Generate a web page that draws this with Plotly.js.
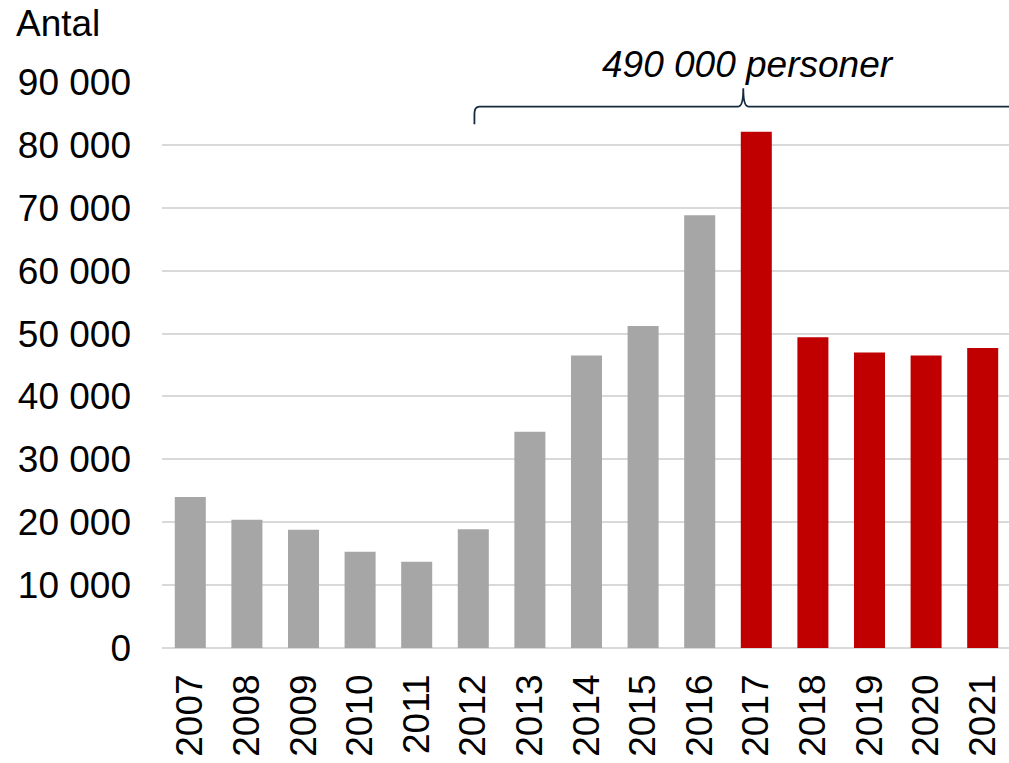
<!DOCTYPE html>
<html>
<head>
<meta charset="utf-8">
<script src="https://cdn.plot.ly/plotly-3.0.1.min.js"></script>
<style>
  html, body { margin: 0; padding: 0; background: #ffffff; overflow: hidden; }
  #chart { width: 1011px; height: 763px; }
</style>
</head>
<body>
<div id="chart"></div>
<script>
// ---- data ----
const years = ['2007','2008','2009','2010','2011','2012','2013','2014','2015','2016','2017','2018','2019','2020','2021'];
const antal = [24000, 20400, 18800, 15300, 13700, 18900, 34400, 46500, 51200, 68800, 82100, 49400, 47000, 46500, 47700];
const highlightFrom = '2017';
const braceLabel = '490 000 personer';
const yTitle = 'Antal';

// ---- styles ----
const grey = '#a6a6a6';
const red = '#c00000';
const font = 'Liberation Sans, Arial, sans-serif';
const barColors = years.map(y => (y >= highlightFrom ? red : grey));

// brace geometry (x in category index units, y in data units)
const bx0 = 5.02, bxp = 9.77, bx1 = 14.8;
const yLine = 86100, yHook = 83300, yPeak = 89000, r = 0.09, ry = 1100;
const bracePath =
  `M ${bx0},${yHook} L ${bx0},${yLine - ry} Q ${bx0},${yLine} ${bx0 + r},${yLine} ` +
  `L ${bxp - r},${yLine} Q ${bxp},${yLine} ${bxp},${yPeak} ` +
  `Q ${bxp},${yLine} ${bxp + r},${yLine} L ${bx1 - r},${yLine} ` +
  `Q ${bx1},${yLine} ${bx1},${yLine - ry} L ${bx1},${yHook}`;

const trace = {
  type: 'bar',
  x: years,
  y: antal,
  marker: { color: barColors, line: { width: 0 } },
  hoverinfo: 'x+y'
};

const layout = {
  width: 1011,
  height: 763,
  margin: { l: 162, r: 0, t: 82, b: 115 },
  paper_bgcolor: '#ffffff',
  plot_bgcolor: '#ffffff',
  separators: ', ',
  font: { family: font, size: 37, color: '#000000' },
  bargap: 0.452,
  showlegend: false,
  xaxis: {
    type: 'category',
    range: [-0.5, years.length - 0.5],
    autorange: false,
    tickangle: -90,
    showgrid: false,
    showline: false,
    zeroline: false,
    ticks: '',
    ticklabelstandoff: 18,
    tickfont: { family: font, size: 37, color: '#000000' }
  },
  yaxis: {
    range: [0, 90000],
    autorange: false,
    dtick: 10000,
    tick0: 0,
    tickformat: ',d',
    showgrid: true,
    gridcolor: '#d9d9d9',
    gridwidth: 2,
    zeroline: true,
    zerolinecolor: '#d9d9d9',
    zerolinewidth: 2,
    showline: false,
    ticks: '',
    ticklabelstandoff: 30,
    tickfont: { family: font, size: 37, color: '#000000' }
  },
  shapes: [{
    type: 'path',
    xref: 'x',
    yref: 'y',
    path: bracePath,
    line: { color: '#172b3f', width: 1.8 }
  }],
  annotations: [
    {
      text: braceLabel,
      xref: 'x', yref: 'paper',
      x: 9.85, y: 1.031,
      xanchor: 'center', yanchor: 'middle',
      showarrow: false,
      font: { family: font, size: 37, color: '#000000', style: 'italic' }
    },
    {
      text: yTitle,
      xref: 'paper', yref: 'paper',
      x: -0.174, y: 1.1025,
      xanchor: 'left', yanchor: 'middle',
      showarrow: false,
      font: { family: font, size: 37, color: '#000000' }
    }
  ]
};

Plotly.newPlot('chart', [trace], layout, { staticPlot: true, displayModeBar: false });
</script>
</body>
</html>
